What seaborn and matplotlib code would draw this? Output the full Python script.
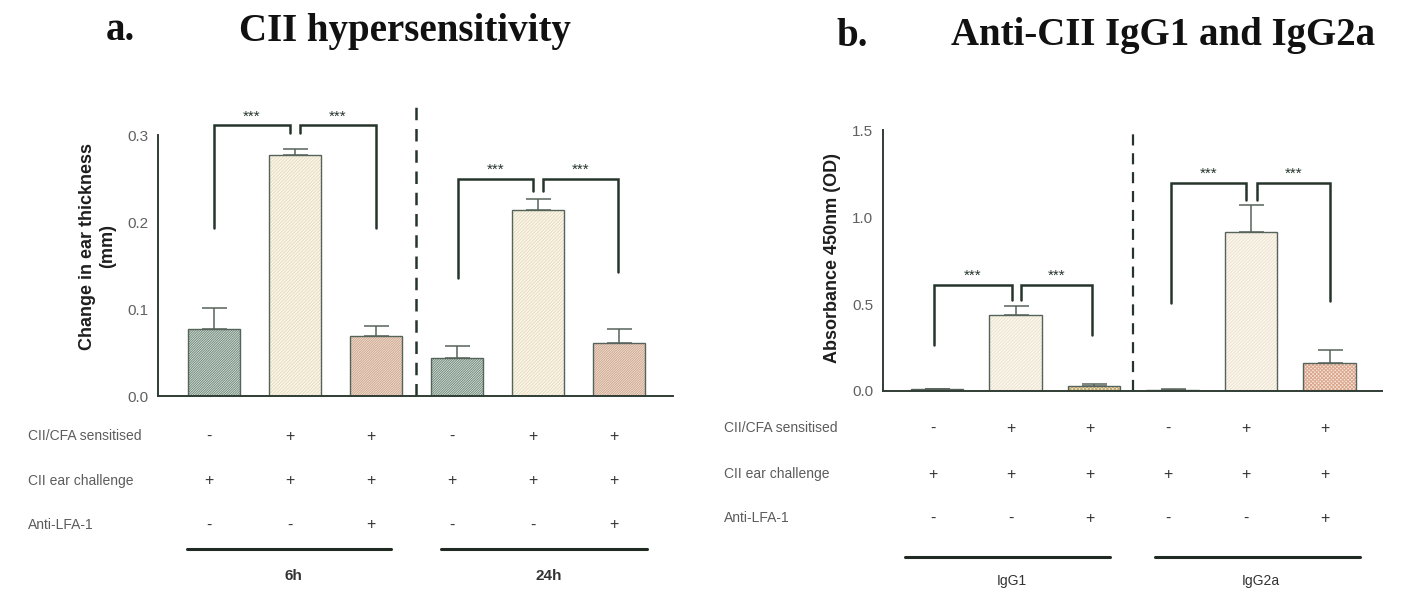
import matplotlib
matplotlib.use("Agg")
import matplotlib.pyplot as plt
import matplotlib.transforms as mtransforms
import seaborn as sns
import pandas as pd

# ---- data -------------------------------------------------------------
groups_a = ["6h", "6h", "6h", "24h", "24h", "24h"]
conds_a = ["6h ctrl", "6h sens", "6h anti", "24h ctrl", "24h sens", "24h anti"]
thickness = [0.077, 0.277, 0.069, 0.044, 0.214, 0.061]
thickness_sem = [0.024, 0.007, 0.012, 0.014, 0.013, 0.016]

conds_b = ["IgG1 ctrl", "IgG1 sens", "IgG1 anti", "IgG2a ctrl", "IgG2a sens", "IgG2a anti"]
absorbance = [0.010, 0.435, 0.030, 0.008, 0.912, 0.161]
absorbance_sem = [0.003, 0.052, 0.012, 0.003, 0.155, 0.077]

row_labels = ["CII/CFA sensitised", "CII ear challenge", "Anti-LFA-1"]
sensitised = ["-", "+", "+", "-", "+", "+"]
challenge = ["+", "+", "+", "+", "+", "+"]
anti_lfa = ["-", "-", "+", "-", "-", "+"]

group_names_a = ["6h", "24h"]
group_names_b = ["IgG1", "IgG2a"]

# significance brackets: (x_left, x_right, y_top, y_left_end, y_right_end)
brackets_a = [(0, 0.94, 0.3115, 0.193, 0.303), (1.06, 2, 0.3115, 0.303, 0.193),
              (3.02, 3.94, 0.250, 0.136, 0.236), (4.06, 4.99, 0.250, 0.236, 0.143)]
brackets_b = [(-0.04, 0.95, 0.609, 0.262, 0.525), (1.07, 1.97, 0.609, 0.525, 0.324),
              (2.98, 3.94, 1.195, 0.506, 1.098), (4.08, 5.01, 1.195, 1.098, 0.515)]

# ---- styling ----------------------------------------------------------
face_a = ["#e3eae4", "#fdf8ea", "#f7e6d8", "#e3eae4", "#fdf8ea", "#f7e6d8"]
hatch_col_a = ["#6f8b7b", "#e8dcc0", "#cfa88f", "#6f8b7b", "#e8dcc0", "#cfa88f"]
hatch_a = ["/" * 14, "/" * 10, "/" * 14, "/" * 14, "/" * 10, "/" * 14]

face_b = ["#c9d6c4", "#fdf9ee", "#f8eed2", "#c9d6c4", "#fdf9ee", "#f9e7d8"]
hatch_col_b = ["#4d6650", "#ece2cc", "#c2a86c", "#4d6650", "#ece2cc", "#dca68d"]
hatch_b = ["|" * 8, "/" * 10, "x" * 9, "|" * 8, "/" * 10, "x" * 9]

axis_col = "#2f3d34"
edge_col = "#56635a"

sns.set_style("white")
plt.rcParams["font.family"] = ["Liberation Sans", "DejaVu Sans"]
plt.rcParams["hatch.linewidth"] = 0.7

fig = plt.figure(figsize=(14.01, 5.94), dpi=100)
ax_a = fig.add_axes([0.1128, 0.3333, 0.3676, 0.505])
ax_b = fig.add_axes([0.6303, 0.3418, 0.3562, 0.448])


def draw_panel(ax, conds, values, sems, faces, hcols, hatches, width):
    df = pd.DataFrame({"cond": conds, "value": values})
    sns.barplot(data=df, x="cond", y="value", hue="cond", order=conds,
                hue_order=conds, palette=faces, width=width, legend=False,
                errorbar=None, linewidth=0, ax=ax)
    for patch, hc, h in zip(ax.patches, hcols, hatches):
        patch.set_edgecolor(hc)
        patch.set_hatch(h)
    xs = list(range(len(conds)))
    ax.bar(xs, values, width=width, fill=False, edgecolor=edge_col, linewidth=1.0)
    ax.errorbar(xs, values, yerr=[[0] * len(sems), sems], fmt="none",
                ecolor=edge_col, elinewidth=1.1, capsize=9, capthick=1.1)
    for s in ["top", "right"]:
        ax.spines[s].set_visible(False)
    for s in ["left", "bottom"]:
        ax.spines[s].set_color(axis_col)
        ax.spines[s].set_linewidth(1.4)
    ax.set_xticks([])
    ax.set_xlabel("")
    ax.set_xlim(-0.69, 5.67)
    ax.tick_params(axis="y", direction="out", length=5, width=1, color=axis_col,
                   labelsize=11, labelcolor="#606060", pad=2)


def draw_brackets(ax, brackets, star_dy):
    for x1, x2, yt, y1, y2 in brackets:
        ax.plot([x1, x1, x2, x2], [y1, yt, yt, y2], color="#26352b", lw=1.8,
                solid_joinstyle="miter")
        ax.text((x1 + x2) / 2, yt + star_dy, "***", ha="center", va="bottom",
                fontsize=11, color="#26352b")


draw_panel(ax_a, conds_a, thickness, thickness_sem, face_a, hatch_col_a, hatch_a, 0.64)
ax_a.set_ylim(0, 0.345)
ax_a.set_yticks([0.0, 0.1, 0.2, 0.3])
ax_a.set_yticklabels(["0.0", "0.1", "0.2", "0.3"])
ax_a.spines["left"].set_bounds(0, 0.3)
ax_a.plot([2.5, 2.5], [0, 0.335], color="#26352b", lw=1.8, linestyle=(0, (5, 3.5)))
draw_brackets(ax_a, brackets_a, 0.002)
ax_a.set_ylabel("Change in ear thickness\n(mm)", fontsize=13, fontweight="bold",
                color="#1e1e1e", labelpad=8)

draw_panel(ax_b, conds_b, absorbance, absorbance_sem, face_b, hatch_col_b, hatch_b, 0.67)
ax_b.set_ylim(0, 1.53)
ax_b.set_yticks([0.0, 0.5, 1.0, 1.5])
ax_b.set_yticklabels(["0.0", "0.5", "1.0", "1.5"])
ax_b.spines["left"].set_bounds(0, 1.5)
ax_b.plot([2.5, 2.5], [0, 1.5], color="#26352b", lw=1.6, linestyle=(0, (5, 3.5)))
draw_brackets(ax_b, brackets_b, 0.012)
ax_b.set_ylabel("Absorbance 450nm (OD)", fontsize=13, fontweight="bold",
                color="#1e1e1e", labelpad=8)


# ---- condition table under the bars ---------------------------------------
def draw_table(ax, label_x, row_y, line_y, name_y, line_spans, names, name_kw):
    tr = mtransforms.blended_transform_factory(ax.transData, fig.transFigure)
    rows = [sensitised, challenge, anti_lfa]
    for label, y, symbols in zip(row_labels, row_y, rows):
        fig.text(label_x, 1 - y / 594, label, fontsize=10, color="#5c5c5c",
                 ha="left", va="center")
        for i, sym in enumerate(symbols):
            ax.text(i - 0.06, 1 - y / 594, sym, transform=tr, ha="center",
                    va="center", fontsize=11.5, color="#333333")
    for (x1, x2), name in zip(line_spans, names):
        ax.plot([x1, x2], [1 - line_y / 594] * 2, transform=tr, color="#1e2a22",
                lw=2.2, clip_on=False)
        ax.text((x1 + x2) / 2 + 0.05, 1 - name_y / 594, name, transform=tr,
                ha="center", va="center", color="#333333", **name_kw)


draw_table(ax_a, 28 / 1401, [436, 481, 525], 549, 576,
           [(-0.33, 2.19), (2.81, 5.35)], group_names_a,
           dict(fontsize=11, fontweight="bold"))
draw_table(ax_b, 724 / 1401, [428, 474, 518], 557, 581,
           [(-0.41, 2.2), (2.77, 5.39)], group_names_b,
           dict(fontsize=10))

# ---- panel titles -------------------------------------------------------------
title_kw = dict(fontsize=28, fontweight="bold", family=["Liberation Serif", "DejaVu Serif"],
                color="#111111", va="center")
fig.text(120 / 1401, 1 - 31 / 594, "a.", ha="center", **title_kw)
fig.text(405 / 1401, 1 - 31 / 594, "CII hypersensitivity", ha="center", **title_kw)
fig.text(852 / 1401, 1 - 36 / 594, "b.", ha="center", **title_kw)
fig.text(1163 / 1401, 1 - 36 / 594, "Anti-CII IgG1 and IgG2a", ha="center", **title_kw)

fig.savefig("out.png", dpi=100)
